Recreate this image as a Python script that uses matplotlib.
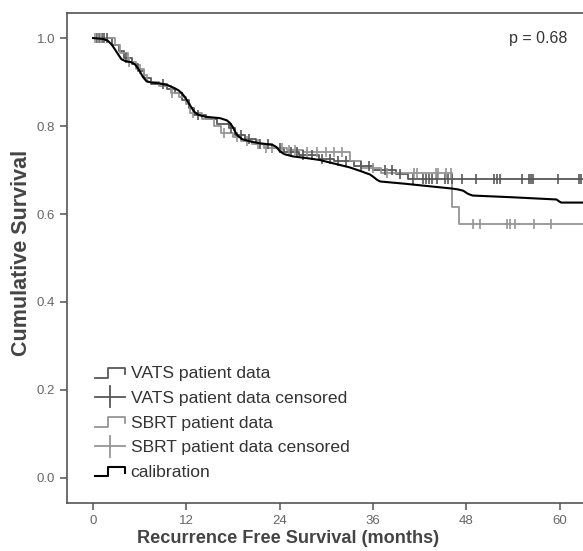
import numpy as np
import matplotlib
matplotlib.use('Agg')
import matplotlib.pyplot as plt
from matplotlib.lines import Line2D
from matplotlib.legend_handler import HandlerBase

plt.rcParams['font.family'] = ['Liberation Sans', 'DejaVu Sans']

# step curves (event times, survival after event)
vats_t = [0, 2.5, 3.3, 4.0, 5.0, 5.8, 6.5, 7.5, 9.5, 10.5, 11.5, 12.3, 13.0, 14.5, 16.0,
          17.5, 18.2, 19.5, 21.0, 23.0, 24.5, 26.5, 29.0, 31.0, 33.5, 36.0, 39.0, 40.5, 63.0]
vats_s = [1.0, 0.985, 0.97, 0.955, 0.94, 0.925, 0.91, 0.895, 0.885, 0.875, 0.86, 0.84, 0.825,
          0.815, 0.805, 0.795, 0.78, 0.77, 0.76, 0.75, 0.74, 0.735, 0.725, 0.72, 0.71, 0.70,
          0.69, 0.68, 0.68]
vats_cens = [0.5, 0.8, 1.1, 1.4, 1.8, 4.2, 9.0, 13.5, 17.8, 19.0, 20.0, 21.5, 22.5, 24.0, 25.5,
             26.2, 27.0, 28.2, 29.5, 30.5, 31.5, 32.5, 34.5, 35.5, 37.5, 38.5, 39.5, 41.1, 42.4,
             42.8, 43.2, 43.6, 44.2, 45.2, 45.6, 46.1, 47.4, 49.3, 51.6, 51.9, 52.3, 55.2, 56.0,
             56.3, 56.6, 59.8, 62.5, 62.7]

sbrt_t = [0, 2.8, 3.5, 4.5, 5.5, 6.5, 7.0, 8.5, 10.0, 11.0, 12.0, 12.5, 14.0, 15.5, 16.5, 18.0,
          19.0, 20.5, 22.0, 25.0, 27.0, 33.0, 34.5, 37.0, 46.2, 47.0, 63.0]
sbrt_s = [1.0, 0.985, 0.965, 0.945, 0.93, 0.915, 0.90, 0.89, 0.875, 0.865, 0.85, 0.83, 0.815,
          0.80, 0.785, 0.775, 0.765, 0.76, 0.75, 0.745, 0.74, 0.72, 0.705, 0.694, 0.615, 0.577,
          0.577]
sbrt_cens = [0.3, 0.7, 1.0, 4.6, 6.0, 10.2, 12.8, 16.8, 18.5, 19.8, 21.2, 22.3, 23.0, 24.3, 25.2,
             26.0, 27.5, 28.8, 30.0, 31.0, 32.0, 36.0, 37.8, 41.3, 41.6, 44.1, 44.3, 45.4, 46.0,
             48.8, 49.7, 53.2, 53.6, 54.2, 56.7, 58.9]

# calibration curve (smooth)
cal_t = [0, 1.3, 1.9, 2.4, 2.9, 3.3, 3.65, 4.1, 4.6, 4.94, 5.4, 5.9, 6.4, 6.86, 7.5, 8.57, 9.6,
         10.5, 11.0, 11.4, 11.8, 12.3, 12.8, 13.1, 13.6, 14.5, 16.3, 17.2, 17.6, 18.0, 18.3,
         18.6, 19.2, 20.2, 21.4, 23.1, 23.6, 24.0, 24.6, 25.7, 27.5, 29.1, 33.0, 34.5, 35.1,
         35.6, 36.0, 36.5, 36.9, 40.0, 46.1, 46.9, 47.6, 48.2, 48.8, 54.0, 59.6, 59.9, 60.2,
         63.0]
cal_s = [1.0, 0.998, 0.994, 0.985, 0.972, 0.961, 0.952, 0.948, 0.946, 0.945, 0.94, 0.928,
         0.912, 0.902, 0.899, 0.897, 0.893, 0.886, 0.881, 0.875, 0.866, 0.852, 0.838, 0.831,
         0.825, 0.821, 0.818, 0.813, 0.807, 0.797, 0.786, 0.778, 0.77, 0.765, 0.761, 0.757,
         0.752, 0.743, 0.736, 0.731, 0.727, 0.723, 0.706, 0.697, 0.693, 0.69, 0.685, 0.678,
         0.674, 0.669, 0.658, 0.656, 0.653, 0.646, 0.642, 0.638, 0.633, 0.629, 0.626, 0.626]

xticks = [0, 12, 24, 36, 48, 60]
yticks = [0.0, 0.2, 0.4, 0.6, 0.8, 1.0]
labels = ['VATS patient data', 'VATS patient data censored', 'SBRT patient data',
          'SBRT patient data censored', 'calibration']

dark = '#575757'
light = '#959595'


def surv_at(times, surv, t):
    idx = np.searchsorted(times, t, side='right') - 1
    return np.array(surv)[idx]


class StepHandler(HandlerBase):
    def create_artists(self, legend, orig, xd, yd, w, h, fontsize, trans):
        xs = np.array([0, 0.45, 0.45, 1.0, 1.0]) * w - xd
        ys = np.array([0.05, 0.05, 0.85, 0.85, 0.35]) * h - yd
        ln = Line2D(xs, ys, color=orig.get_color(), lw=orig.get_linewidth(), transform=trans)
        return [ln]


class CensHandler(HandlerBase):
    def create_artists(self, legend, orig, xd, yd, w, h, fontsize, trans):
        ln = Line2D([-xd, w - xd], [h / 2 - yd] * 2, color=orig.get_color(), lw=1.3, transform=trans)
        tk = Line2D([w / 2 - xd] * 2, [-0.35 * h - yd, 1.35 * h - yd], color=orig.get_color(), lw=1.3,
                    transform=trans)
        return [ln, tk]


fig = plt.figure(figsize=(5.83, 5.51), dpi=100)
ax = fig.add_axes([67 / 583, 1 - 503 / 551, 1 - 67 / 583, (503 - 13) / 551])

ax.step(vats_t, vats_s, where='post', color=dark, lw=1.3)
ax.step(sbrt_t, sbrt_s, where='post', color=light, lw=1.3)
ax.plot(vats_cens, surv_at(vats_t, vats_s, vats_cens), ls='none', marker='|', ms=7, mew=1.2, color=dark)
ax.plot(sbrt_cens, surv_at(sbrt_t, sbrt_s, sbrt_cens), ls='none', marker='|', ms=7, mew=1.2, color=light)
ax.plot(cal_t, cal_s, color='black', lw=1.5)

ax.set_xlim(-3.35, 63.0)
ax.set_ylim(-0.057, 1.057)
ax.set_xticks(xticks)
ax.set_yticks(yticks)
ax.set_yticklabels(['%.1f' % v for v in yticks])
ax.tick_params(colors='#555555', labelsize=9.5, length=5, width=1.1, labelcolor='#666666')
for side in ['left', 'bottom', 'top']:
    ax.spines[side].set_color('#555555')
    ax.spines[side].set_linewidth(1.2)
ax.spines['right'].set_visible(False)

ax.set_xlabel('Recurrence Free Survival (months)', fontsize=13.1, fontweight='bold', color='#444444')
ax.xaxis.set_label_coords((288 - 67) / (583 - 67), -0.055)
ax.set_ylabel('Cumulative Survival', fontsize=15.5, fontweight='bold', color='#444444')
ax.yaxis.set_label_coords(-0.068, 0.51)

ax.text(0.97, 0.948, 'p = 0.68', transform=ax.transAxes, ha='right', va='center',
        fontsize=11.5, color='#333333')

h_vats = Line2D([], [], color=dark, lw=1.3)
h_vats_c = Line2D([], [], color=dark, lw=1.3)
h_sbrt = Line2D([], [], color=light, lw=1.3)
h_sbrt_c = Line2D([], [], color=light, lw=1.3)
h_cal = Line2D([], [], color='black', lw=1.5)
leg = ax.legend([h_vats, h_vats_c, h_sbrt, h_sbrt_c, h_cal], labels,
                handler_map={h_vats: StepHandler(), h_sbrt: StepHandler(), h_cal: StepHandler(),
                             h_vats_c: CensHandler(), h_sbrt_c: CensHandler()},
                loc='lower left', bbox_to_anchor=(0.054, 0.047), frameon=False, fontsize=12.6,
                handlelength=1.7, handletextpad=0.34, labelspacing=0.54, borderpad=0,
                borderaxespad=0)
for t in leg.get_texts():
    t.set_color('#333333')

fig.savefig('out.png', dpi=100)
